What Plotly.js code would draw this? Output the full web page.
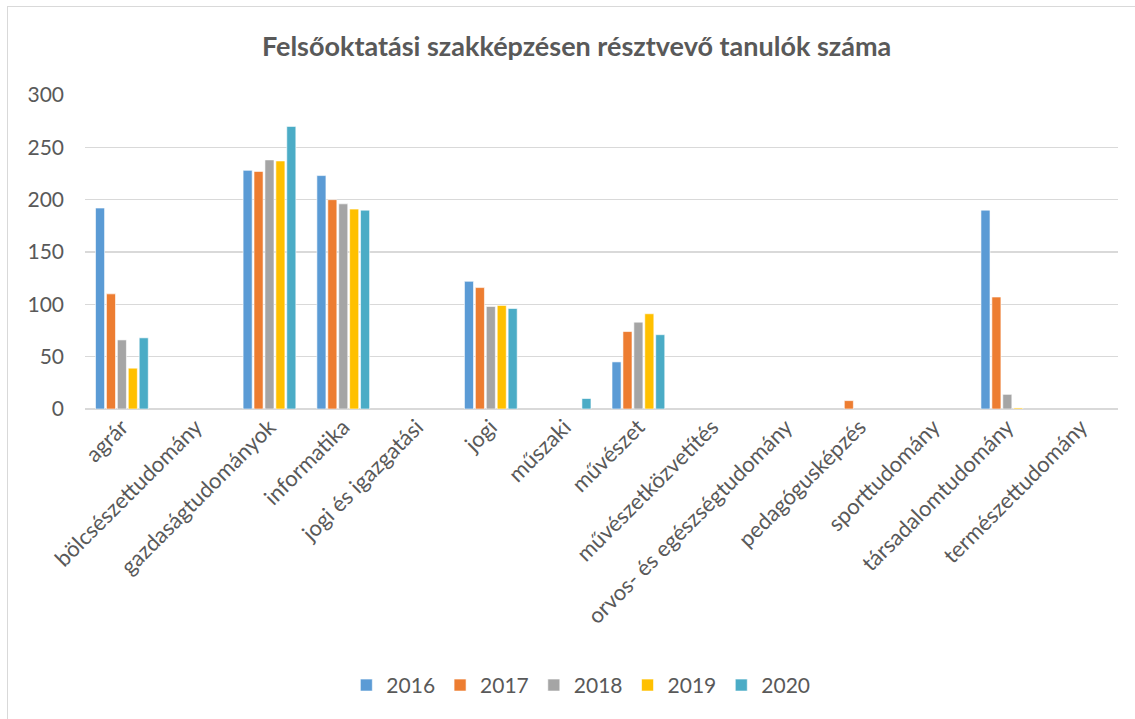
<!DOCTYPE html>
<html>
<head>
<meta charset="utf-8">
<script src="https://cdn.plot.ly/plotly-3.0.1.min.js"></script>
<style>
html,body{margin:0;padding:0;background:#fff;}
#frame{position:absolute;left:7px;top:6px;width:1140px;height:730px;border-left:1.5px solid #d9d9d9;border-top:1.5px solid #d9d9d9;pointer-events:none;}
#chart{position:absolute;left:0;top:0;width:1135px;height:719px;}
</style>
</head>
<body>
<div id="chart"></div>
<div id="frame"></div>
<script>
const categories = ["agrár","bölcsészettudomány","gazdaságtudományok","informatika","jogi és igazgatási","jogi","műszaki","művészet","művészetközvetítés","orvos- és egészségtudomány","pedagógusképzés","sporttudomány","társadalomtudomány","természettudomány"];
const years = ["2016","2017","2018","2019","2020"];
const v2016 = [192, null, 228, 223, null, 122, null, 45, null, null, null, null, 190, null];
const v2017 = [110, null, 227, 200, null, 116, null, 74, null, null, 8, null, 107, null];
const v2018 = [66, null, 238, 196, null, 98, null, 83, null, null, null, null, 14, null];
const v2019 = [39, null, 237, 191, null, 99, null, 91, null, null, null, null, 1, null];
const v2020 = [68, null, 270, 190, null, 96, 10, 71, null, null, null, null, null, null];
const colors = ["#5B9BD5","#ED7D31","#A5A5A5","#FFC000","#4BACC6"];
const series = [v2016, v2017, v2018, v2019, v2020];
const yTicks = [0,50,100,150,200,250,300];

const font = "Lato, 'Open Sans', sans-serif";
const data = series.map((vals, i) => ({
  type: "bar",
  name: years[i],
  x: categories,
  y: vals,
  marker: {color: colors[i], line: {color: "rgba(255,255,255,0.6)", width: 1}},
  hoverinfo: "x+y+name"
}));

const layout = {
  width: 1135, height: 719,
  paper_bgcolor: "rgba(0,0,0,0)", plot_bgcolor: "#fff",
  margin: {l: 85, r: 17, t: 95, b: 310},
  title: {text: "<b>Felsőoktatási szakképzésen résztvevő tanulók száma</b>", font: {family: font, size: 27, color: "#595959"}, x: 0.508, xanchor: "center", y: 0.935, yanchor: "middle"},
  barmode: "group",
  bargap: 0.26,
  bargroupgap: 0.17,
  font: {family: font, color: "#595959"},
  xaxis: {
    type: "category",
    tickangle: -45,
    tickfont: {family: font, size: 22, color: "#595959"},
    showgrid: false, showline: false, zeroline: false,
    ticks: "", ticklabelstandoff: 0,
    fixedrange: true
  },
  yaxis: {
    range: [0, 300],
    tickvals: yTicks,
    ticktext: yTicks.map(String),
    tickfont: {family: font, size: 21, color: "#595959"},
    showgrid: true, gridcolor: "#d9d9d9", gridwidth: 1.5,
    zeroline: true, zerolinecolor: "#d9d9d9", zerolinewidth: 1.5,
    showline: false, ticks: "", ticklabelstandoff: 20,
    fixedrange: true
  },
  showlegend: true,
  legend: {orientation: "h", x: 0.48, xanchor: "center", y: -0.815, yanchor: "top", font: {family: font, size: 21, color: "#595959"}, itemwidth: 30, traceorder: "normal"}
};

Plotly.newPlot("chart", data, layout, {displayModeBar: false, staticPlot: true});
</script>
</body>
</html>
